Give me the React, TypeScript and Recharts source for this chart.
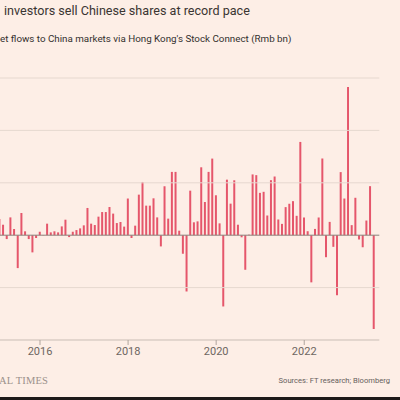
import React from 'react';
import { BarChart, Bar, XAxis, YAxis, ReferenceLine } from 'recharts';

// monthly northbound flows, Feb 2015 – Aug 2023 (Rmb bn)
const months = [
  '2015-02', '2015-03', '2015-04', '2015-05', '2015-06', '2015-07', '2015-08', '2015-09', '2015-10', '2015-11', '2015-12',
  '2016-01', '2016-02', '2016-03', '2016-04', '2016-05', '2016-06', '2016-07', '2016-08', '2016-09', '2016-10', '2016-11', '2016-12',
  '2017-01', '2017-02', '2017-03', '2017-04', '2017-05', '2017-06', '2017-07', '2017-08', '2017-09', '2017-10', '2017-11', '2017-12',
  '2018-01', '2018-02', '2018-03', '2018-04', '2018-05', '2018-06', '2018-07', '2018-08', '2018-09', '2018-10', '2018-11', '2018-12',
  '2019-01', '2019-02', '2019-03', '2019-04', '2019-05', '2019-06', '2019-07', '2019-08', '2019-09', '2019-10', '2019-11', '2019-12',
  '2020-01', '2020-02', '2020-03', '2020-04', '2020-05', '2020-06', '2020-07', '2020-08', '2020-09', '2020-10', '2020-11', '2020-12',
  '2021-01', '2021-02', '2021-03', '2021-04', '2021-05', '2021-06', '2021-07', '2021-08', '2021-09', '2021-10', '2021-11', '2021-12',
  '2022-01', '2022-02', '2022-03', '2022-04', '2022-05', '2022-06', '2022-07', '2022-08', '2022-09', '2022-10', '2022-11', '2022-12',
  '2023-01', '2023-02', '2023-03', '2023-04', '2023-05', '2023-06', '2023-07', '2023-08',
];

const flows = [
  15.4, 10, -3.7, 17, 5.9, -31.4, 21.2, 3.7, -3.7, -16.4, -2.7,
  3.3, 0.3, 11, 2.7, 3.7, 2.7, 8.4, 14.8, -1.8, 3.3, 4.9, 6.5,
  9.4, 26, 11, 9.7, 17.7, 22.1, 22.1, 26.9, 20.6, 11.6, 12.6, 8.2,
  35, -2.7, 9.1, 38.7, 50.8, 28.2, 28.2, 35.2, 17, -10.7, 46.7, 15.8,
  60.4, 60.4, 4.3, -17.7, -53.7, 42.5, 12.3, 13.2, 64.8, 31.7, 60.4, 73.1,
  38.1, 11.3, -68, 53, 30.1, 52.4, 10, -2, -33, 0.5, 58, 57.3,
  40.4, 41.4, 18.8, 52.5, 56, 15, 10.8, 26.8, 30, 32.5, 18.5, 89,
  16.9, 3.8, -45, 6, 16.9, 73.2, -21, 12.7, -11.1, -57.3, 60.2, 35,
  141.4, 9.6, 35.7, -4.1, -11.5, 14, 46.8, -89.5,
];

const yearTicks = ['2016-01', '2018-01', '2020-01', '2022-01'];
const gridValues = [-50, 50, 100, 150];

const data = months.map((m, i) => ({ month: m, value: flows[i] }));

const bg = '#FDEEE6';

const App: React.FC = () => {
  return (
    <div
      style={{
        position: 'fixed',
        top: 0,
        left: 0,
        width: 400,
        height: 400,
        background: bg,
        overflow: 'hidden',
        fontFamily: 'Roboto, sans-serif',
      }}
    >
      <div style={{ position: 'absolute', left: 4, top: 2, fontSize: 12.6, lineHeight: '18px', color: '#3a3532', whiteSpace: 'nowrap' }}>
        investors sell Chinese shares at record pace
      </div>
      <div style={{ position: 'absolute', left: 0, top: 32, fontSize: 9.8, lineHeight: '14px', color: '#33302e', whiteSpace: 'nowrap' }}>
        et flows to China markets via Hong Kong's Stock Connect (Rmb bn)
      </div>

      <div style={{ position: 'absolute', left: -20, top: 0 }}>
        <BarChart
          width={420}
          height={380}
          data={data}
          margin={{ top: 78, right: 20.7, left: 17.8, bottom: 10 }}
          barCategoryGap="16%"
        >
          <YAxis hide domain={[-100, 150]} />
          {gridValues.map((v) => (
            <ReferenceLine key={v} y={v} stroke="#E6D8CF" strokeWidth={1} />
          ))}
          <XAxis
            dataKey="month"
            ticks={yearTicks}
            interval={0}
            tickFormatter={(m: string) => m.slice(0, 4)}
            tick={{ fontSize: 11, fill: '#6e6661', fontFamily: 'Roboto, sans-serif' }}
            tickSize={5}
            tickMargin={2}
            height={30}
            axisLine={{ stroke: '#C9BDB5' }}
            tickLine={{ stroke: '#B0A59E' }}
            padding={{ left: 0, right: 3.5 }}
          />
          <Bar dataKey="value" fill="#E5566B" isAnimationActive={false} />
          <ReferenceLine y={0} stroke="#8C827C" strokeWidth={1} />
        </BarChart>
      </div>

      <div
        style={{
          position: 'absolute',
          left: -1,
          top: 374,
          fontSize: 10.5,
          lineHeight: '14px',
          color: '#9b918b',
          fontFamily: '"Liberation Serif", serif',
          letterSpacing: 0.2,
          whiteSpace: 'nowrap',
        }}
      >
        AL TIMES
      </div>
      <div
        style={{
          position: 'absolute',
          right: 10,
          top: 375,
          fontSize: 7.6,
          lineHeight: '12px',
          color: '#66605c',
          whiteSpace: 'nowrap',
        }}
      >
        Sources: FT research; Bloomberg
      </div>
      <div style={{ position: 'absolute', left: 0, top: 397, width: 400, height: 3, background: '#1d1a19' }} />
    </div>
  );
};

export default App;
